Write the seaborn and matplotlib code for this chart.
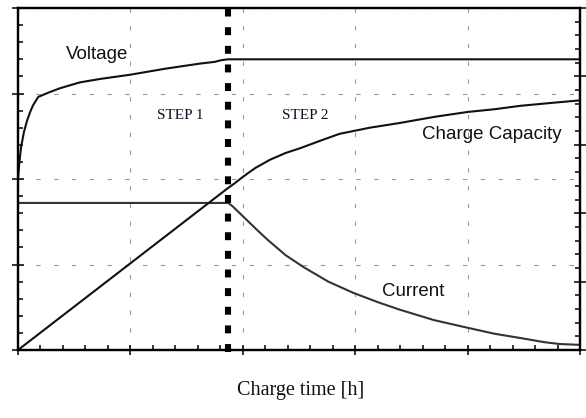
import matplotlib
matplotlib.use("Agg")
import matplotlib.pyplot as plt
import seaborn as sns
import pandas as pd
from matplotlib.ticker import MultipleLocator, NullFormatter

# ---- data ----
voltage_t = [0, 0.01, 0.027, 0.053, 0.08, 0.107, 0.133, 0.18, 0.27, 0.37, 0.55, 0.73,
             1.0, 1.31, 1.62, 1.75, 1.81, 1.87, 2.0, 5.0]
voltage_v = [2.0, 2.16, 2.37, 2.55, 2.68, 2.78, 2.86, 2.96, 3.01, 3.06, 3.13, 3.17,
             3.22, 3.29, 3.35, 3.37, 3.39, 3.40, 3.40, 3.40]

current_t = [0, 1.87, 1.91, 2.02, 2.13, 2.22, 2.38, 2.54, 2.76, 2.98, 3.20, 3.40,
             3.70, 4.0, 4.24, 4.47, 4.69, 4.82, 5.0]
current_v = [1.72, 1.72, 1.68, 1.54, 1.40, 1.29, 1.11, 0.97, 0.80, 0.67, 0.56, 0.47,
             0.35, 0.26, 0.19, 0.14, 0.09, 0.07, 0.06]

capacity_t = [0, 1.87, 1.93, 2.0, 2.11, 2.24, 2.38, 2.51, 2.69, 2.86, 3.13, 3.40,
              3.71, 4.0, 4.24, 4.47, 4.73, 5.0]
capacity_v = [0, 2.37, 2.44, 2.53, 2.66, 2.78, 2.88, 2.95, 3.06, 3.16, 3.25, 3.32,
              3.41, 3.48, 3.52, 3.57, 3.61, 3.65]

step_boundary = 1.87

labels = ["Voltage", "Charge Capacity", "Current", "STEP 1", "STEP 2"]
xlabel = "Charge time [h]"

sns.set_theme(style="white")

fig = plt.figure(figsize=(5.86, 4.18), dpi=100)
ax = fig.add_axes([18/586, (418-350)/418, 562/586, 342/418])
ax2 = ax.twinx()

df_v = pd.DataFrame({"t": voltage_t, "y": voltage_v})
df_c = pd.DataFrame({"t": current_t, "y": current_v})
df_q = pd.DataFrame({"t": capacity_t, "y": capacity_v})

sns.lineplot(data=df_v, x="t", y="y", ax=ax, color="#111111", lw=1.5, sort=False, estimator=None)
sns.lineplot(data=df_c, x="t", y="y", ax=ax, color="#333333", lw=1.5, sort=False, estimator=None)
sns.lineplot(data=df_q, x="t", y="y", ax=ax2, color="#111111", lw=1.5, sort=False, estimator=None)

ax.set_xlim(0, 5)
ax.set_ylim(0, 4)
ax2.set_ylim(0, 5)

for a in (ax, ax2):
    a.set_xlabel("")
    a.set_ylabel("")
    for s in a.spines.values():
        s.set_color("black")
        s.set_linewidth(1.6)
        s.set_visible(True)

ax.xaxis.set_major_locator(MultipleLocator(1))
ax.xaxis.set_minor_locator(MultipleLocator(0.2))
ax.yaxis.set_major_locator(MultipleLocator(1))
ax.yaxis.set_minor_locator(MultipleLocator(0.2))
ax2.yaxis.set_major_locator(MultipleLocator(1))
ax2.yaxis.set_minor_locator(MultipleLocator(0.2))

for a in (ax, ax2):
    a.xaxis.set_major_formatter(NullFormatter())
    a.yaxis.set_major_formatter(NullFormatter())
    a.xaxis.set_minor_formatter(NullFormatter())
    a.yaxis.set_minor_formatter(NullFormatter())

ax.tick_params(axis="x", which="major", direction="inout", length=7, width=1.1, bottom=True, top=False, color="black")
ax.tick_params(axis="x", which="minor", direction="in", length=3.5, width=1.1, bottom=True, top=False, color="black")
ax.tick_params(axis="y", which="major", direction="inout", length=8, width=1.1, left=True, right=False, color="black")
ax.tick_params(axis="y", which="minor", direction="in", length=3.5, width=1.1, left=True, right=False, color="black")
ax2.tick_params(axis="y", which="major", direction="inout", length=8, width=1.1, right=True, left=False, color="black")
ax2.tick_params(axis="y", which="minor", direction="in", length=3.5, width=1.1, right=True, left=False, color="black")

ax.grid(True, which="major", color="#999999", linestyle=(0, (4, 12)), linewidth=0.8)
ax.set_axisbelow(True)

ax2.axvline(step_boundary, ymin=-0.006, ymax=1.009, color="black", lw=4.4,
            linestyle=(0, (1.3, 1.75)), solid_capstyle="butt", dash_capstyle="butt",
            clip_on=False, zorder=5)

sans = ["Liberation Sans", "DejaVu Sans"]
serif = ["Liberation Serif", "DejaVu Serif"]
ax2.text(0.141, 0.863, labels[0], transform=ax.transAxes, ha="center", va="center",
         fontsize=13.5, family=sans, color="#111111")
ax2.text(0.843, 0.629, labels[1], transform=ax.transAxes, ha="center", va="center",
         fontsize=13.5, family=sans, color="#111111")
ax2.text(0.703, 0.170, labels[2], transform=ax.transAxes, ha="center", va="center",
         fontsize=13.5, family=sans, color="#111111")
ax2.text(0.288, 0.687, labels[3], transform=ax.transAxes, ha="center", va="center",
         fontsize=11, family=serif, color="#111122")
ax2.text(0.512, 0.687, labels[4], transform=ax.transAxes, ha="center", va="center",
         fontsize=11, family=serif, color="#111122")

fig.text(301/586, 1 - 390/418, xlabel, ha="center", va="center", fontsize=14.5,
         family=serif, color="#111111")

fig.savefig("out.png", dpi=100, facecolor="white")
